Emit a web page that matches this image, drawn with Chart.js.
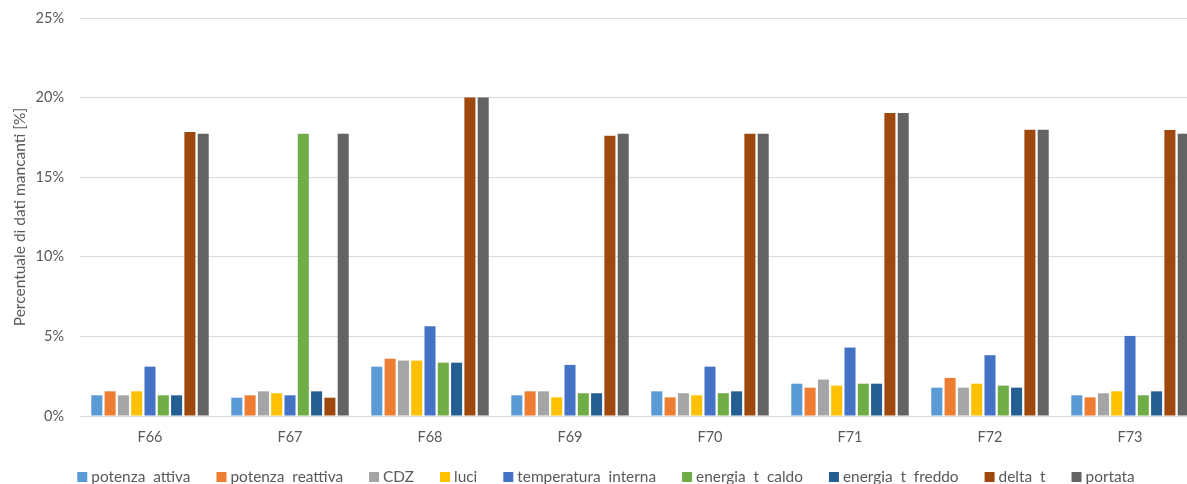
<!DOCTYPE html>
<html>
<head>
<meta charset="utf-8">
<script src="https://cdn.jsdelivr.net/npm/chart.js@4.4.1/dist/chart.umd.min.js"></script>
<style>
  html, body { margin: 0; padding: 0; background: #ffffff; overflow: hidden; }
  #wrap { width: 1187px; height: 484px; overflow: hidden; position: relative; }
  #box { position: absolute; left: 0; top: 0; width: 1205px; height: 484px; }
</style>
</head>
<body>
<div id="wrap"><div id="box"><canvas id="chart"></canvas></div></div>
<script>
// Missing-data share per meter (percent)
const categories = ['F66', 'F67', 'F68', 'F69', 'F70', 'F71', 'F72', 'F73'];

const potenzaAttiva      = [1.30, 1.15, 3.10, 1.30, 1.55, 2.03, 1.78, 1.30];
const potenzaReattiva    = [1.55, 1.30, 3.60, 1.55, 1.17, 1.78, 2.39, 1.17];
const cdz                = [1.30, 1.55, 3.48, 1.55, 1.43, 2.29, 1.78, 1.43];
const luci               = [1.55, 1.43, 3.48, 1.17, 1.30, 1.91, 2.03, 1.55];
const temperaturaInterna = [3.10, 1.30, 5.64, 3.21, 3.10, 4.30, 3.82, 5.03];
const energiaTCaldo      = [1.30, 17.73, 3.35, 1.43, 1.43, 2.03, 1.91, 1.30];
const energiaTFreddo     = [1.30, 1.55, 3.35, 1.43, 1.55, 2.03, 1.78, 1.55];
const deltaT             = [17.84, 1.15, 20.00, 17.60, 17.73, 19.04, 17.98, 17.96];
const portata            = [17.73, 17.73, 20.00, 17.73, 17.73, 19.04, 17.98, 17.73];

const seriesNames = ['potenza  attiva', 'potenza  reattiva', 'CDZ', 'luci', 'temperatura  interna',
                     'energia  t  caldo', 'energia  t  freddo', 'delta  t', 'portata'];
const seriesValues = [potenzaAttiva, potenzaReattiva, cdz, luci, temperaturaInterna,
                      energiaTCaldo, energiaTFreddo, deltaT, portata];
const seriesColors = ['#5B9BD5', '#ED7D31', '#A5A5A5', '#FFC000', '#4472C4',
                      '#70AD47', '#255E91', '#9E480E', '#636363'];

const yTicks = [0, 5, 10, 15, 20, 25];
const yTitle = 'Percentuale di dati mancanti [%]';

const FONT = 'Lato';
const TEXT = '#595959';
const GRID = '#d9d9d9';

// Legend row drawn under the axis
const bottomLegend = {
  id: 'bottomLegend',
  afterDraw(chart) {
    const ctx = chart.ctx;
    const size = 15.4, box = 10, gapText = 4, gapItem = 26, centerX = 606, midY = 477;
    ctx.save();
    ctx.font = size + 'px ' + FONT;
    ctx.textBaseline = 'middle';
    const items = chart.data.datasets.map(ds => ({
      text: ds.label, color: ds.backgroundColor, w: ctx.measureText(ds.label).width
    }));
    const total = items.reduce((s, it) => s + box + gapText + it.w, 0) + gapItem * (items.length - 1);
    let x = centerX - total / 2;
    items.forEach(it => {
      ctx.fillStyle = it.color;
      ctx.fillRect(x, midY - box / 2, box, box);
      ctx.fillStyle = TEXT;
      ctx.fillText(it.text, x + box + gapText, midY + 0.5);
      x += box + gapText + it.w + gapItem;
    });
    ctx.restore();
  }
};

new Chart(document.getElementById('chart'), {
  type: 'bar',
  data: {
    labels: categories,
    datasets: seriesNames.map((name, i) => ({
      label: name,
      data: seriesValues[i],
      backgroundColor: seriesColors[i],
      borderWidth: 0,
      categoryPercentage: 0.855,
      barPercentage: 0.83
    }))
  },
  options: {
    responsive: true,
    maintainAspectRatio: false,
    animation: false,
    layout: { padding: { top: 18, right: 5, left: 0, bottom: 0 } },
    plugins: {
      legend: { display: false },
      tooltip: { enabled: false }
    },
    scales: {
      x: {
        grid: { display: false, drawTicks: false },
        border: { display: true, color: GRID, width: 1 },
        ticks: { color: TEXT, font: { family: FONT, size: 14.5 }, padding: 13 },
        afterFit(scale) { scale.height = 68; scale.paddingLeft = 0; scale.paddingRight = 0; }
      },
      y: {
        min: 0,
        max: 25,
        afterBuildTicks(scale) { scale.ticks = yTicks.map(v => ({ value: v })); },
        grid: { color: GRID, lineWidth: 1, drawTicks: false },
        border: { display: false },
        ticks: {
          color: TEXT,
          font: { family: FONT, size: 14.5 },
          padding: 16,
          callback: v => v + '%'
        },
        title: {
          display: true,
          text: yTitle,
          color: TEXT,
          font: { family: FONT, size: 15.5 },
          padding: { top: 11, bottom: 0 }
        },
        afterFit(scale) { scale.width = 80; scale.paddingTop = 0; scale.paddingBottom = 0; }
      }
    }
  },
  plugins: [bottomLegend]
});
</script>
</body>
</html>
